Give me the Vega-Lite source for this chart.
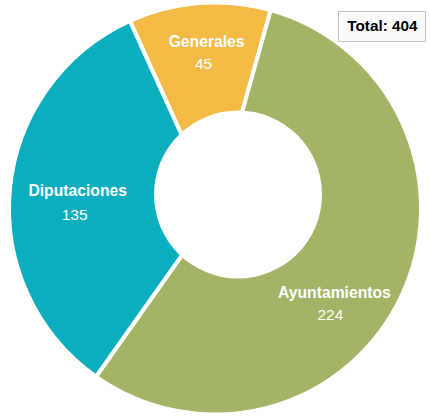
{
  "$schema": "https://vega.github.io/schema/vega-lite/v6.json",
  "width": 430,
  "height": 417,
  "autosize": {"type": "fit", "contains": "padding"},
  "padding": 0,
  "background": "white",
  "config": {"view": {"stroke": null}},
  "datasets": {
    "slices": [
      {"cat": "Generales", "n": 45, "ord": 1},
      {"cat": "Ayuntamientos", "n": 224, "ord": 2},
      {"cat": "Diputaciones", "n": 135, "ord": 3}
    ],
    "total": [{"label": "Total: 404"}],
    "hole": [{"part": "hole"}]
  },
  "layer": [
    {
      "data": {"name": "slices"},
      "mark": {"type": "arc", "radius": 206, "stroke": "white", "strokeWidth": 4},
      "encoding": {
        "theta": {"field": "n", "type": "quantitative", "stack": true, "scale": {"range": [-0.426, 5.857]}},
        "order": {"field": "ord", "type": "quantitative"},
        "color": {
          "field": "cat",
          "type": "nominal",
          "scale": {"domain": ["Generales", "Ayuntamientos", "Diputaciones"], "range": ["#F3BA45", "#A3B466", "#0AAEBF"]},
          "legend": null
        }
      }
    },
    {
      "data": {"name": "hole"},
      "mark": {"type": "point", "shape": "circle", "size": 28224, "filled": true, "fill": "white", "opacity": 1, "strokeWidth": 0, "xOffset": 23, "yOffset": -14},
      "encoding": {}
    },
    {
      "data": {"name": "slices"},
      "mark": {
        "type": "text", "radius": 150,
        "dx": {"expr": "datum.cat === 'Generales' ? 3 : datum.cat === 'Diputaciones' ? 12 : -16"},
        "dy": {"expr": "datum.cat === 'Generales' ? -17 : datum.cat === 'Diputaciones' ? -3 : 20"},
        "font": "Liberation Sans", "fontWeight": "bold", "fontSize": 15.7, "fill": "white"
      },
      "encoding": {
        "theta": {"field": "n", "type": "quantitative", "stack": true},
        "order": {"field": "ord", "type": "quantitative"},
        "text": {"field": "cat", "type": "nominal"}
      }
    },
    {
      "data": {"name": "slices"},
      "mark": {
        "type": "text", "radius": 150,
        "dx": {"expr": "datum.cat === 'Generales' ? 0 : datum.cat === 'Diputaciones' ? 9 : -20"},
        "dy": {"expr": "datum.cat === 'Generales' ? 5 : datum.cat === 'Diputaciones' ? 21 : 42"},
        "font": "Liberation Sans", "fontSize": 15.5, "fill": "white"
      },
      "encoding": {
        "theta": {"field": "n", "type": "quantitative", "stack": true},
        "order": {"field": "ord", "type": "quantitative"},
        "text": {"field": "n", "type": "quantitative"}
      }
    },
    {
      "data": {"name": "total"},
      "mark": {"type": "point", "opacity": 0, "size": 0},
      "encoding": {
        "shape": {
          "field": "label",
          "type": "nominal",
          "legend": {
            "title": null,
            "orient": "none",
            "legendX": 338,
            "legendY": 5,
            "strokeColor": "#c0c0c0",
            "fillColor": "#fafafa",
            "padding": 7,
            "labelFont": "Liberation Sans",
            "labelFontWeight": "bold",
            "labelFontSize": 15.3,
            "labelColor": "black",
            "symbolSize": 0,
            "symbolOpacity": 0,
            "labelOffset": -13
          }
        }
      }
    }
  ]
}
